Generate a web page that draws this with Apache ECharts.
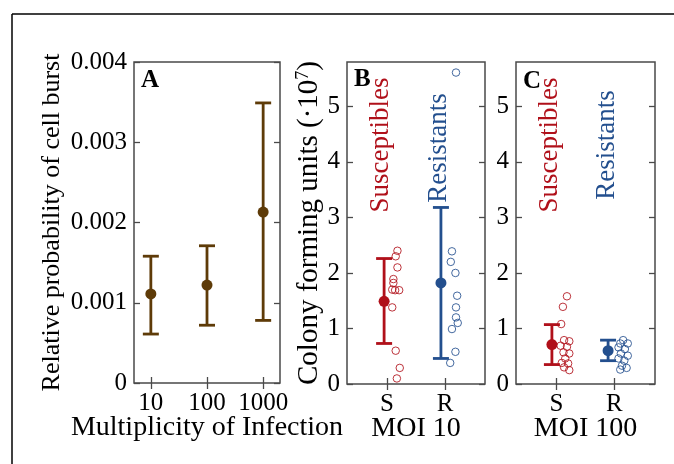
<!DOCTYPE html>
<html>
<head>
<meta charset="utf-8">
<script src="https://cdn.jsdelivr.net/npm/echarts@6/dist/echarts.min.js"></script>
<style>
  html, body { margin: 0; padding: 0; background: #fff; }
  #main { width: 674px; height: 464px; }
</style>
</head>
<body>
<div id="main"></div>
<script>
var myChart = echarts.init(document.getElementById('main'));

// panel A: burst probability vs MOI
var moiLabels = ['10', '100', '1000'];
var burstMean = [0.00111, 0.00122, 0.00213];
var burstLow = [0.00061, 0.00072, 0.00078];
var burstHigh = [0.00158, 0.00171, 0.00349];

// panels B and C: S / R groups
var groupLabels = ['S', 'R'];
var yTicksCfu = [0, 1, 2, 3, 4, 5];

var moi10BarX = [0.95, 1.93];
var moi10Mean = [1.49, 1.82];
var moi10Low = [0.73, 0.46];
var moi10High = [2.26, 3.18];
var moi10SusX = [1.18, 1.15, 1.18, 1.11, 1.11, 1.09, 1.14, 1.21, 1.09, 1.15, 1.22, 1.17];
var moi10SusY = [2.40, 2.30, 2.10, 1.89, 1.82, 1.70, 1.69, 1.69, 1.38, 0.60, 0.29, 0.10];
var moi10ResX = [2.19, 2.12, 2.10, 2.18, 2.21, 2.19, 2.19, 2.22, 2.12, 2.18, 2.09];
var moi10ResY = [5.61, 2.39, 2.20, 2.00, 1.59, 1.38, 1.20, 1.10, 0.99, 0.58, 0.38];

var moi100BarX = [0.92, 1.89];
var moi100Mean = [0.71, 0.60];
var moi100Low = [0.35, 0.42];
var moi100High = [1.07, 0.79];
var moi100SusX = [1.18, 1.11, 1.08, 1.13, 1.22, 1.07, 1.18, 1.12, 1.22, 1.15, 1.09, 1.20, 1.13, 1.22];
var moi100SusY = [1.58, 1.39, 1.08, 0.79, 0.77, 0.69, 0.67, 0.57, 0.55, 0.46, 0.38, 0.37, 0.30, 0.25];
var moi100ResX = [2.15, 2.10, 2.23, 2.07, 2.18, 2.11, 2.23, 2.07, 2.17, 2.13, 2.21, 2.10];
var moi100ResY = [0.79, 0.73, 0.73, 0.66, 0.63, 0.55, 0.51, 0.46, 0.42, 0.33, 0.29, 0.26];

var brown = '#5e3b08';
var red = '#b0101a';
var blue = '#234f8e';
var boxColor = '#4a4a4a';
var serif = '"Liberation Serif", "DejaVu Serif", serif';

function zip(a, b) {
    return a.map(function (v, i) { return [v, b[i]]; });
}

function errorBar(params, api) {
    var x = api.value(0);
    var top = api.coord([x, api.value(2)]);
    var bot = api.coord([x, api.value(1)]);
    var hw = 8;
    var style = { stroke: api.visual('color'), lineWidth: 2.8 };
    return {
        type: 'group',
        children: [
            { type: 'line', shape: { x1: top[0], y1: top[1], x2: bot[0], y2: bot[1] }, style: style },
            { type: 'line', shape: { x1: top[0] - hw, y1: top[1], x2: top[0] + hw, y2: top[1] }, style: style },
            { type: 'line', shape: { x1: bot[0] - hw, y1: bot[1], x2: bot[0] + hw, y2: bot[1] }, style: style }
        ]
    };
}

var tick = { show: true, inside: true, length: 6, lineStyle: { color: boxColor, width: 1.3 } };

function xAxes(grid, min, max, ticks, labels, name) {
    return [{
        type: 'value', gridIndex: grid, min: min, max: max, position: 'bottom',
        axisLine: { show: false }, splitLine: { show: false },
        axisTick: Object.assign({ customValues: ticks }, tick),
        axisLabel: {
            customValues: ticks, margin: 8, color: '#000', fontFamily: serif, fontSize: 25,
            formatter: function (v) { return labels[Math.round(v) - 1]; }
        },
        name: name, nameLocation: 'middle', nameGap: 31, nameMoveOverlap: false,
        nameTextStyle: { color: '#000', fontFamily: serif, fontSize: 28 }
    }, {
        type: 'value', gridIndex: grid, min: min, max: max, position: 'top',
        axisLine: { show: false }, splitLine: { show: false },
        axisTick: Object.assign({ customValues: ticks }, tick),
        axisLabel: { show: false }
    }];
}

function yAxes(grid, min, max, ticks, name, gap, size, rich) {
    return [{
        type: 'value', gridIndex: grid, min: min, max: max, position: 'left',
        axisLine: { show: false }, splitLine: { show: false },
        axisTick: Object.assign({ customValues: ticks }, tick),
        axisLabel: { customValues: ticks, margin: 7, color: '#000', fontFamily: serif, fontSize: 25 },
        name: name, nameLocation: 'middle', nameGap: gap,
        nameTextStyle: { color: '#000', fontFamily: serif, fontSize: size, rich: rich }
    }, {
        type: 'value', gridIndex: grid, min: min, max: max, position: 'right',
        axisLine: { show: false }, splitLine: { show: false },
        axisTick: Object.assign({ customValues: ticks }, tick),
        axisLabel: { show: false }
    }];
}

var gridBase = { show: true, borderColor: boxColor, borderWidth: 1.5, backgroundColor: 'transparent' };

function pointSeries(xi, yi, xs, ys, color) {
    return {
        type: 'scatter', xAxisIndex: xi, yAxisIndex: yi, data: zip(xs, ys),
        symbol: 'circle', symbolSize: 7.5, z: 3,
        itemStyle: { color: 'rgba(0,0,0,0)', borderColor: color, borderWidth: 1, opacity: 0.85 }
    };
}

function barSeries(xi, yi, x, lo, hi, color) {
    return {
        type: 'custom', xAxisIndex: xi, yAxisIndex: yi, renderItem: errorBar,
        itemStyle: { color: color }, z: 4,
        data: [[x, lo, hi]]
    };
}

function meanSeries(xi, yi, x, m, color, size) {
    return {
        type: 'scatter', xAxisIndex: xi, yAxisIndex: yi, data: [[x, m]],
        symbolSize: size, itemStyle: { color: color, opacity: 1 }, z: 5
    };
}

var series = [];
series.push({
    type: 'custom', xAxisIndex: 0, yAxisIndex: 0, renderItem: errorBar,
    itemStyle: { color: brown },
    data: burstMean.map(function (m, i) { return [i + 1, burstLow[i], burstHigh[i]]; })
});
series.push({
    type: 'scatter', xAxisIndex: 0, yAxisIndex: 0, symbolSize: 11, z: 5,
    itemStyle: { color: brown, opacity: 1 },
    data: burstMean.map(function (m, i) { return [i + 1, m]; })
});

series.push(pointSeries(2, 2, moi10SusX, moi10SusY, red));
series.push(pointSeries(2, 2, moi10ResX, moi10ResY, blue));
series.push(barSeries(2, 2, moi10BarX[0], moi10Low[0], moi10High[0], red));
series.push(barSeries(2, 2, moi10BarX[1], moi10Low[1], moi10High[1], blue));
series.push(meanSeries(2, 2, moi10BarX[0], moi10Mean[0], red, 11));
series.push(meanSeries(2, 2, moi10BarX[1], moi10Mean[1], blue, 11));

series.push(pointSeries(4, 4, moi100SusX, moi100SusY, red));
series.push(pointSeries(4, 4, moi100ResX, moi100ResY, blue));
series.push(barSeries(4, 4, moi100BarX[0], moi100Low[0], moi100High[0], red));
series.push(barSeries(4, 4, moi100BarX[1], moi100Low[1], moi100High[1], blue));
series.push(meanSeries(4, 4, moi100BarX[0], moi100Mean[0], red, 11));
series.push(meanSeries(4, 4, moi100BarX[1], moi100Mean[1], blue, 11));

function label(text, x, y, color, rotate) {
    return {
        type: 'text', x: x, y: y, rotation: rotate ? Math.PI / 2 : 0, z: 10,
        style: {
            text: text, fill: color, align: rotate ? 'center' : 'left',
            verticalAlign: rotate ? 'middle' : 'top',
            font: (rotate ? '' : 'bold ') + (rotate ? '27px ' : '25px ') + serif
        }
    };
}

var option = {
    animation: false,
    backgroundColor: '#fff',
    grid: [
        Object.assign({ left: 134, top: 62, width: 146, height: 321 }, gridBase),
        Object.assign({ left: 347, top: 62, width: 138, height: 322 }, gridBase),
        Object.assign({ left: 516, top: 62, width: 139, height: 322 }, gridBase)
    ],
    xAxis: [].concat(
        xAxes(0, 0.7, 3.3, [1, 2, 3], moiLabels, 'Multiplicity of Infection'),
        xAxes(1, 0.31, 2.69, [1, 2], groupLabels, 'MOI 10'),
        xAxes(2, 0.3, 2.7, [1, 2], groupLabels, 'MOI 100')
    ),
    yAxis: [].concat(
        yAxes(0, 0, 0.004, [0, 0.001, 0.002, 0.003, 0.004], 'Relative probability of cell burst', 69, 26),
        yAxes(1, 0, 5.8, yTicksCfu, 'Colony forming units (\u00b710{sup|7})', 20, 29,
            { sup: { fontSize: 18, fontFamily: serif, color: '#000', verticalAlign: 'top', lineHeight: 28 } }),
        yAxes(2, 0, 5.8, yTicksCfu, '', 0, 26)
    ),
    graphic: [
        { type: 'line', shape: { x1: 12, y1: 14, x2: 674, y2: 14 }, style: { stroke: '#000', lineWidth: 1.5 } },
        { type: 'line', shape: { x1: 12, y1: 14, x2: 12, y2: 464 }, style: { stroke: '#000', lineWidth: 1.5 } },
        label('A', 141, 68, '#000', false),
        label('B', 354, 67, '#000', false),
        label('C', 523, 69, '#000', false),
        label('Susceptibles', 381, 145, red, true),
        label('Resistants', 439, 148, blue, true),
        label('Susceptibles', 550, 145, red, true),
        label('Resistants', 607, 145, blue, true)
    ],
    series: series
};

myChart.setOption(option);
</script>
</body>
</html>
